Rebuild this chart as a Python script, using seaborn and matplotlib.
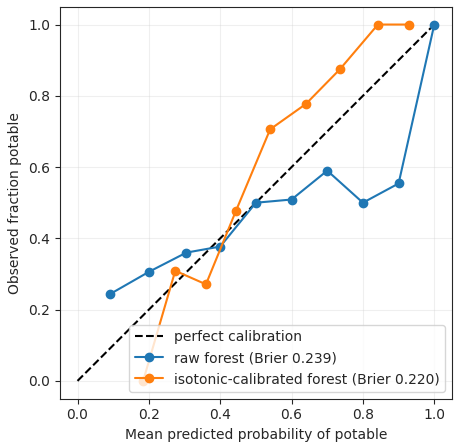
import matplotlib
matplotlib.use("Agg")
import matplotlib.pyplot as plt
import seaborn as sns

raw_x = [0.09, 0.20, 0.305, 0.40, 0.50, 0.60, 0.70, 0.80, 0.90, 1.0]
raw_y = [0.243, 0.306, 0.36, 0.377, 0.50, 0.509, 0.59, 0.50, 0.554, 1.0]
iso_x = [0.184, 0.274, 0.36, 0.444, 0.54, 0.64, 0.735, 0.842, 0.93]
iso_y = [0.0, 0.309, 0.271, 0.477, 0.706, 0.777, 0.874, 1.0, 1.0]

sns.set_style("ticks")
fig, ax = plt.subplots(figsize=(4.59, 4.48), dpi=100)
ax.plot([0, 1], [0, 1], "k--", label="perfect calibration")
ax.plot(raw_x, raw_y, marker="o", color="#1f77b4", label="raw forest (Brier 0.239)")
ax.plot(iso_x, iso_y, marker="o", color="#ff7f0e", label="isotonic-calibrated forest (Brier 0.220)")
ax.grid(True, alpha=0.3)
ax.set_xlabel("Mean predicted probability of potable")
ax.set_ylabel("Observed fraction potable")
ax.legend(loc="lower right")
fig.subplots_adjust(left=0.13, right=0.985, top=0.985, bottom=0.11)
fig.savefig("out.png")
